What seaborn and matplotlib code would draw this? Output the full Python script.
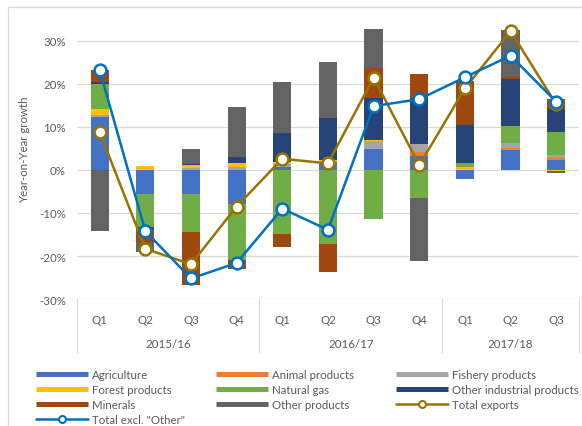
import numpy as np
import pandas as pd
import matplotlib
matplotlib.use('Agg')
import matplotlib.pyplot as plt
import matplotlib.transforms as mtransforms
from matplotlib.lines import Line2D
from matplotlib.patches import Rectangle
import seaborn as sns

# data (year-on-year growth, %)
quarters = ['Q1', 'Q2', 'Q3', 'Q4', 'Q1', 'Q2', 'Q3', 'Q4', 'Q1', 'Q2', 'Q3']
years = ['2015/16', '2016/17', '2017/18']
year_sizes = [4, 4, 3]

agriculture = [12.2, -5.6, -5.7, -7.9, 0.6, 1.8, 4.9, 3.3, -2.0, 4.7, 2.2]
animal_products = [0.0, 0.0, 0.0, 0.0, 0.0, 0.0, 0.0, 0.8, 0.0, 0.3, 0.5]
fishery_products = [0.5, 0.0, 0.4, 0.6, 0.8, 0.0, 1.7, 1.8, 0.0, 1.3, 0.8]
forest_products = [1.5, 0.9, 0.8, 0.9, 0.4, 0.5, 0.3, 0.0, 0.6, 0.0, -0.3]
natural_gas = [5.8, -7.7, -8.6, -13.1, -14.9, -17.1, -11.5, -6.6, 1.1, 3.8, 5.3]
other_industrial = [0.5, -0.5, 0.2, 1.6, 6.8, 9.8, 9.9, 10.7, 8.8, 11.0, 5.4]
minerals = [2.7, -2.9, -12.3, -2.1, -3.1, -6.7, 6.8, 5.7, 10.1, 0.4, 2.3]
other_products = [-14.2, -2.3, 3.4, 11.5, 11.8, 12.9, 9.2, -14.6, 0.0, 10.9, -0.5]

total_exports = [8.8, -18.3, -21.9, -8.5, 2.6, 1.5, 21.4, 1.1, 18.9, 32.2, 15.2]
total_excl_other = [23.2, -14.2, -25.2, -21.6, -9.0, -13.9, 14.8, 16.4, 21.5, 26.5, 15.8]

series = [
    ('Agriculture', agriculture, '#4472C4'),
    ('Animal products', animal_products, '#ED7D31'),
    ('Fishery products', fishery_products, '#A5A5A5'),
    ('Forest products', forest_products, '#FFC000'),
    ('Natural gas', natural_gas, '#70AD47'),
    ('Other industrial products', other_industrial, '#264478'),
    ('Minerals', minerals, '#9E480E'),
    ('Other products', other_products, '#636363'),
]
gold = '#997300'
blue = '#0070C0'
txt = '#595959'
grid_c = '#D9D9D9'
fs = 8.3

sns.set_theme(style='whitegrid')
plt.rcParams['font.family'] = ['Lato', 'DejaVu Sans']

fig, ax = plt.subplots(figsize=(5.82, 4.27), dpi=100)
fig.subplots_adjust(left=0.132, right=0.995, top=0.953, bottom=0.297)
ax.set_facecolor('white')

x = np.arange(len(quarters))
pos = np.zeros(len(x))
neg = np.zeros(len(x))
for name, vals, color in series:
    v = np.array(vals)
    bottom = np.where(v >= 0, pos, neg)
    ax.bar(x, v, width=0.4, bottom=bottom, color=color, linewidth=0, zorder=2)
    pos += np.where(v >= 0, v, 0)
    neg += np.where(v < 0, v, 0)

sns.lineplot(x=x, y=total_exports, color=gold, linewidth=1.8, marker='o',
             markersize=8.5, markerfacecolor='white', markeredgecolor=gold,
             markeredgewidth=1.8, ax=ax, zorder=3)
sns.lineplot(x=x, y=total_excl_other, color=blue, linewidth=1.8, marker='o',
             markersize=8.5, markerfacecolor='white', markeredgecolor=blue,
             markeredgewidth=1.8, ax=ax, zorder=4)

# axes
ax.set_ylim(-30, 35)
ax.set_yticks(range(-30, 31, 10))
ax.set_yticklabels([f'{t}%' for t in range(-30, 31, 10)])
ax.set_xlim(-0.5, 10.5)
ax.set_xticks(x, quarters)
ax.grid(axis='x', visible=False)
ax.grid(axis='y', color=grid_c, linewidth=0.9)
for s in ax.spines.values():
    s.set_visible(False)
ax.tick_params(axis='y', length=0, pad=8, labelsize=fs, labelcolor=txt)
ax.tick_params(axis='x', length=0, pad=11, labelsize=fs, labelcolor=txt)
ax.set_ylabel('Year-on-Year growth', fontsize=fs, color=txt)
ax.yaxis.set_label_coords(-0.094, 0.536)

# two-level category axis
trans = mtransforms.blended_transform_factory(ax.transData, ax.transAxes)
edges = np.cumsum([0] + year_sizes) - 0.5
for b in edges:
    ax.plot([b, b], [0, -0.19], transform=trans, color=grid_c, lw=0.9, clip_on=False)
for i, yr in enumerate(years):
    c = (edges[i] + edges[i + 1]) / 2
    ax.text(c, -0.16, yr, transform=trans, ha='center', va='center', fontsize=fs, color=txt)

# legend in three columns
def bar_handle(c):
    return Line2D([], [], color=c, lw=3.6, solid_capstyle='butt')

def line_handle(c):
    return Line2D([], [], color=c, lw=1.8, marker='o', markersize=5,
                  markerfacecolor='white', markeredgecolor=c, markeredgewidth=1.5)

cols = {s[0]: s[2] for s in series}
columns = [
    [('Agriculture', bar_handle(cols['Agriculture'])),
     ('Forest products', bar_handle(cols['Forest products'])),
     ('Minerals', bar_handle(cols['Minerals'])),
     ('Total excl. "Other"', line_handle(blue))],
    [('Animal products', bar_handle(cols['Animal products'])),
     ('Natural gas', bar_handle(cols['Natural gas'])),
     ('Other products', bar_handle(cols['Other products']))],
    [('Fishery products', bar_handle(cols['Fishery products'])),
     ('Other industrial products', bar_handle(cols['Other industrial products'])),
     ('Total exports', line_handle(gold))],
]
for xpos, col in zip([36, 216, 396], columns):
    fig.legend([h for _, h in col], [l for l, _ in col], loc='upper left',
               bbox_to_anchor=(xpos / 582, 1 - 370 / 427), frameon=False,
               fontsize=fs, labelcolor=txt, handlelength=4.5, handletextpad=0.35,
               labelspacing=0.36, borderpad=0, borderaxespad=0)

fig.add_artist(Rectangle((8 / 582, -1), 2, 2 - 8 / 427, transform=fig.transFigure,
                         fill=False, edgecolor=grid_c, lw=0.9))

fig.savefig('out.png', dpi=100)
